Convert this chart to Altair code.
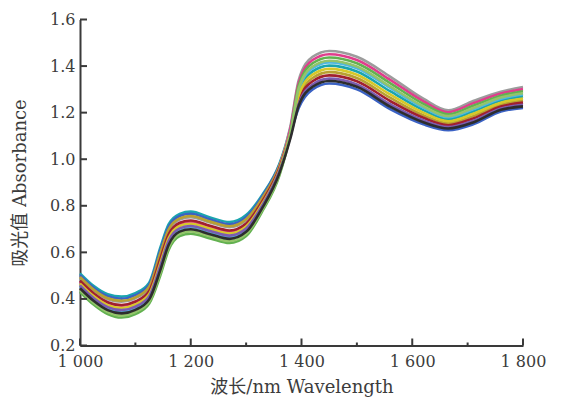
import altair as alt
import pandas as pd

# wavelengths (nm)
wavelength = [1000, 1025, 1050, 1075, 1100, 1125, 1145, 1160, 1180, 1200, 1235, 1270, 1300,
              1330, 1360, 1380, 1395, 1420, 1450, 1500, 1560, 1620, 1665, 1710, 1760, 1800]

# absorbance spectra (one list per sample)
s01 = [.510, .455, .420, .410, .425, .470, .620, .720, .765, .775, .750, .730, .760,
       .850, .980, 1.134, 1.286, 1.377, 1.402, 1.377, 1.292, 1.211, 1.172, 1.205, 1.252, 1.270]
s02 = [.502, .447, .412, .401, .416, .461, .608, .709, .756, .766, .741, .721, .751,
       .843, .975, 1.112, 1.220, 1.300, 1.325, 1.300, 1.215, 1.150, 1.125, 1.150, 1.205, 1.220]
s03 = [.490, .435, .399, .388, .403, .448, .590, .693, .741, .751, .728, .708, .738,
       .833, .968, 1.141, 1.340, 1.440, 1.465, 1.440, 1.355, 1.260, 1.210, 1.250, 1.290, 1.310]
s04 = [.494, .439, .403, .392, .407, .452, .596, .698, .746, .756, .732, .712, .742,
       .836, .970, 1.120, 1.262, 1.349, 1.374, 1.349, 1.264, 1.189, 1.155, 1.185, 1.235, 1.252]
s05 = [.474, .419, .382, .370, .385, .430, .566, .671, .722, .732, .710, .690, .720,
       .819, .958, 1.131, 1.328, 1.426, 1.451, 1.426, 1.341, 1.249, 1.202, 1.240, 1.282, 1.301]
s06 = [.478, .423, .386, .374, .389, .434, .572, .676, .727, .737, .714, .694, .724,
       .822, .960, 1.110, 1.250, 1.335, 1.360, 1.335, 1.250, 1.178, 1.146, 1.175, 1.226, 1.243]
s07 = [.454, .399, .361, .347, .362, .407, .536, .643, .699, .709, .687, .667, .697,
       .801, .945, 1.113, 1.298, 1.391, 1.416, 1.391, 1.306, 1.222, 1.180, 1.215, 1.260, 1.279]
s08 = [.466, .411, .373, .361, .376, .421, .554, .660, .713, .723, .701, .681, .711,
       .812, .953, 1.112, 1.274, 1.363, 1.388, 1.363, 1.278, 1.200, 1.163, 1.195, 1.243, 1.261]
s09 = [.458, .403, .365, .352, .367, .412, .542, .649, .703, .713, .692, .672, .702,
       .805, .948, 1.098, 1.238, 1.321, 1.346, 1.321, 1.236, 1.167, 1.138, 1.165, 1.218, 1.234]
s10 = [.430, .375, .335, .320, .335, .380, .500, .610, .670, .680, .660, .640, .670,
       .780, .930, 1.108, 1.316, 1.412, 1.437, 1.412, 1.327, 1.238, 1.193, 1.230, 1.273, 1.292]
s11 = [.438, .383, .344, .329, .344, .389, .512, .621, .680, .690, .669, .649, .679,
       .787, .935, 1.108, 1.304, 1.398, 1.423, 1.398, 1.313, 1.227, 1.185, 1.220, 1.265, 1.283]
s12 = [.446, .391, .352, .338, .353, .398, .524, .632, .689, .699, .678, .658, .688,
       .794, .940, 1.090, 1.230, 1.311, 1.336, 1.311, 1.226, 1.159, 1.132, 1.158, 1.212, 1.227]

samples = ["S01", "S02", "S03", "S04", "S05", "S06", "S07", "S08", "S09", "S10", "S11", "S12"]
spectra = [s01, s02, s03, s04, s05, s06, s07, s08, s09, s10, s11, s12]
colors = ["#1ba5ae", "#3b62c4", "#9c9c9c", "#b8a032", "#e03d8c", "#a1202e",
          "#4fb6e3", "#d6c82a", "#7b5cb0", "#62b150", "#93c46a", "#2d2d2d"]

x_major = [1000, 1200, 1400, 1600, 1800]
x_minor = [1100, 1300, 1500, 1700]
y_ticks = [0.2, 0.4, 0.6, 0.8, 1.0, 1.2, 1.4, 1.6]

rows = []
for name, vals in zip(samples, spectra):
    for w, v in zip(wavelength, vals):
        rows.append({"wl": w, "abs": v, "sample": name})
df = pd.DataFrame(rows)

W, H = 443, 326
FONT = "DejaVu Serif, Noto Sans CJK SC"
AX = "#3a3a3a"
TXT = "#3c3c3c"

lines = alt.Chart(df).mark_line(interpolate="monotone", strokeWidth=2.6).encode(
    x=alt.X("wl:Q", scale=alt.Scale(domain=[1000, 1800], nice=False, zero=False),
            axis=alt.Axis(values=x_major, ticks=False, grid=False, domainColor=AX, domainWidth=2,
                          labelExpr="replace(format(datum.value, ','), ',', ' ')",
                          labelFont=FONT, labelFontSize=16, labelColor=TXT, labelPadding=8,
                          labelFlush=False,
                          title="波长/nm Wavelength", titleFont=FONT, titleFontSize=18,
                          titleFontWeight="normal", titleColor=TXT,
                          titleBaseline="middle", titleY=42)),
    y=alt.Y("abs:Q", scale=alt.Scale(domain=[0.2, 1.6], nice=False, zero=False),
            axis=alt.Axis(values=y_ticks, ticks=False, grid=False, domainColor=AX, domainWidth=2,
                          format=".1f", labelFont=FONT, labelFontSize=16, labelColor=TXT,
                          labelPadding=5, labelFlush=False,
                          title="吸光值 Absorbance", titleFont=FONT, titleFontSize=18,
                          titleFontWeight="normal", titleColor=TXT,
                          titleX=-60, titleY=H / 2, titleAngle=270, titleAlign="center",
                          titleBaseline="middle")),
    color=alt.Color("sample:N", scale=alt.Scale(domain=samples, range=colors), legend=None),
)

xmaj = alt.Chart(pd.DataFrame({"wl": x_major})).mark_rule(color=AX, strokeWidth=2).encode(
    x="wl:Q", y=alt.value(H), y2=alt.value(H - 7))
xmin = alt.Chart(pd.DataFrame({"wl": x_minor})).mark_rule(color=AX, strokeWidth=2).encode(
    x="wl:Q", y=alt.value(H), y2=alt.value(H - 3))
yt = alt.Chart(pd.DataFrame({"abs": y_ticks})).mark_rule(color=AX, strokeWidth=2).encode(
    y="abs:Q", x=alt.value(0), x2=alt.value(7))

chart = alt.layer(lines, xmaj, xmin, yt).properties(
    width=W, height=H,
    autosize=alt.AutoSizeParams(type="none"),
    padding={"left": 72, "top": 11.5, "right": 30, "bottom": 56},
    background="white",
).configure_view(stroke=None)

chart.save("out.html", embed_options={"renderer": "svg", "actions": False})
